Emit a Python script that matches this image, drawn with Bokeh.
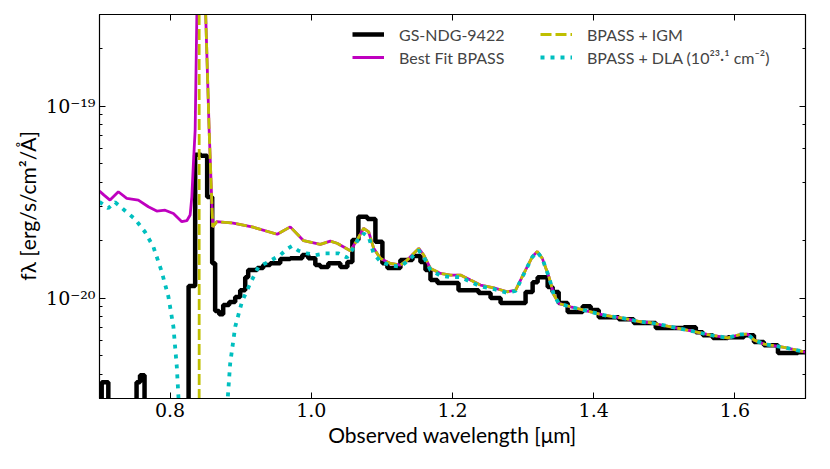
from bokeh.plotting import figure
from bokeh.models import (Range1d, LinearAxis, LogAxis, FixedTicker, LogTicker,
                          CustomJSTickFormatter, Legend, LegendItem)
from bokeh.embed import file_html
from bokeh.resources import INLINE

UNIT = 1e-20  # flux values below are in units of 1e-20 erg/s/cm2/A

# ---- observed spectrum (bin left edges in micron, flux per bin) ----
obs_edges = [0.6950, 0.7031, 0.7125, 0.7525, 0.7574, 0.7638, 0.8262, 0.8355, 0.8440,
             0.8525, 0.8596, 0.8638, 0.8695, 0.8752, 0.8837, 0.8922, 0.8993, 0.9064,
             0.9106, 0.9234, 0.9319, 0.9418, 0.9560, 0.9702, 0.9872, 0.9957, 1.0057,
             1.0128, 1.0241, 1.0411, 1.0511, 1.0582, 1.0667, 1.0794, 1.0908, 1.1007,
             1.1078, 1.1262, 1.1433, 1.1546, 1.1617, 1.1688, 1.1787, 1.2085, 1.2369,
             1.2539, 1.2681, 1.3035, 1.3135, 1.3206, 1.3348, 1.3418, 1.3504, 1.3631,
             1.3844, 1.3957, 1.4071, 1.4355, 1.4567, 1.4879, 1.5277, 1.5447, 1.5546,
             1.5688, 1.5901, 1.6128, 1.6270, 1.6411, 1.6610, 1.6894, 1.7100]
obs_flux = [0.01, 0.365, 0.01, 0.365, 0.397, 0.01, 1.155, 5.58, 5.52,
            3.36, 1.52, 0.856, 0.825, 0.92, 0.953, 1.012, 1.10, 1.286,
            1.40, 1.433, 1.486, 1.52, 1.597, 1.615, 1.675, 1.615, 1.486,
            1.45, 1.52, 1.45, 1.54, 2.005, 2.65, 2.58, 1.965, 1.52,
            1.433, 1.578, 1.655, 1.54, 1.40, 1.241, 1.197, 1.10, 1.062,
            1.0, 0.942, 1.075, 1.211, 1.286, 1.141, 1.075, 0.942, 0.846,
            0.908, 0.866, 0.796, 0.777, 0.741, 0.698, 0.706, 0.665, 0.641,
            0.619, 0.626, 0.641, 0.590, 0.569, 0.517, 0.523]

# ---- best-fit BPASS model ----
model_wave = [0.7000, 0.7064, 0.7149, 0.7267, 0.7386, 0.7550, 0.7692, 0.7811, 0.7929,
              0.8047, 0.8166, 0.8237, 0.8284, 0.8308, 0.8330, 0.8355, 0.8379, 0.8426,
              0.8504, 0.8553, 0.8604, 0.8662, 0.8894, 0.9177, 0.9518, 0.9702, 0.9891,
              1.0128, 1.0270, 1.0365, 1.0553, 1.0648, 1.0742, 1.0813, 1.0884, 1.0979,
              1.1121, 1.1262, 1.1357, 1.1522, 1.1593, 1.1688, 1.1830, 1.1972, 1.2113,
              1.2255, 1.2397, 1.2586, 1.2776, 1.2894, 1.3011, 1.3130, 1.3201, 1.3272,
              1.3366, 1.3437, 1.3508, 1.3674, 1.3911, 1.4146, 1.4430, 1.4667, 1.4809,
              1.5092, 1.5376, 1.5660, 1.5897, 1.6085, 1.6180, 1.6274, 1.6416, 1.6699,
              1.6983, 1.7000]
model_flux = [3.61, 3.44, 3.24, 3.58, 3.31, 3.24, 2.99, 2.84, 2.87,
              2.76, 2.50, 2.53, 2.71, 3.37, 5.03, 7.5, 30.0, 100.0,
              30.0, 7.5, 2.35, 2.50, 2.46, 2.34, 2.15, 2.35, 1.99,
              1.905, 1.98, 1.93, 1.764, 2.005, 2.31, 2.21, 1.815, 1.61,
              1.516, 1.486, 1.578, 1.815, 1.675, 1.428, 1.345, 1.318, 1.318,
              1.241, 1.169, 1.131, 1.079, 1.10, 1.345, 1.641, 1.75, 1.61,
              1.291, 1.037, 0.938, 0.901, 0.856, 0.815, 0.784, 0.753, 0.744,
              0.709, 0.675, 0.641, 0.621, 0.647, 0.649, 0.604, 0.576, 0.554,
              0.525, 0.523]

# ---- BPASS + IGM ----
igm_wave = [0.8411, 0.8412, 0.8426,
            0.8504, 0.8553, 0.8604, 0.8662, 0.8894, 0.9177, 0.9518, 0.9702, 0.9891,
            1.0128, 1.0270, 1.0365, 1.0553, 1.0648, 1.0742, 1.0813, 1.0884, 1.0979,
            1.1121, 1.1262, 1.1357, 1.1522, 1.1593, 1.1688, 1.1830, 1.1972, 1.2113,
            1.2255, 1.2397, 1.2586, 1.2776, 1.2894, 1.3011, 1.3130, 1.3201, 1.3272,
            1.3366, 1.3437, 1.3508, 1.3674, 1.3911, 1.4146, 1.4430, 1.4667, 1.4809,
            1.5092, 1.5376, 1.5660, 1.5897, 1.6085, 1.6180, 1.6274, 1.6416, 1.6699,
            1.6983, 1.7000]
igm_flux = [0.000001, 75.0, 100.0,
            30.0, 7.5, 2.35, 2.50, 2.46, 2.34, 2.15, 2.35, 1.99,
            1.905, 1.98, 1.93, 1.764, 2.005, 2.31, 2.21, 1.815, 1.61,
            1.516, 1.486, 1.578, 1.815, 1.675, 1.428, 1.345, 1.318, 1.318,
            1.241, 1.169, 1.131, 1.079, 1.10, 1.345, 1.641, 1.75, 1.61,
            1.291, 1.037, 0.938, 0.901, 0.856, 0.815, 0.784, 0.753, 0.744,
            0.709, 0.675, 0.641, 0.621, 0.647, 0.649, 0.604, 0.576, 0.554,
            0.525, 0.523]

# ---- BPASS + DLA (N_HI = 10^23.1 cm^-2) ----
dla_wave = [0.7000, 0.7007, 0.7125, 0.7220, 0.7386, 0.7504, 0.7645, 0.7763, 0.7882,
            0.7976, 0.8047, 0.8095, 0.8118, 0.8160, 0.8426, 0.8780, 0.8818, 0.8851,
            0.8922, 0.9017, 0.9135, 0.9252, 0.9394, 0.9560, 0.9655, 0.9726, 0.9820,
            0.9939, 1.0057, 1.0199, 1.0387, 1.0506, 1.0577, 1.0671, 1.0742, 1.0813,
            1.0884, 1.0979, 1.1121, 1.1262, 1.1357, 1.1522, 1.1593, 1.1688, 1.1830,
            1.1972, 1.2113, 1.2255, 1.2397, 1.2586, 1.2776, 1.2894, 1.3011, 1.3130,
            1.3201, 1.3272, 1.3366, 1.3437, 1.3508, 1.3674, 1.3911, 1.4146, 1.4430,
            1.4667, 1.4809, 1.5092, 1.5376, 1.5660, 1.5897, 1.6085, 1.6180, 1.6274,
            1.6416, 1.6699, 1.6983, 1.7000]
dla_flux = [3.18, 3.16, 2.94, 3.16, 2.80, 2.58, 2.21, 1.85, 1.37,
            1.016, 0.709, 0.439, 0.306, 0.05, 0.000001, 0.05, 0.306, 0.457,
            0.709, 0.956, 1.193, 1.455, 1.545, 1.675, 1.80, 1.866, 1.764,
            1.71, 1.675, 1.71, 1.71, 1.628, 1.778, 2.045, 2.17, 2.087,
            1.70, 1.55, 1.48, 1.46, 1.55, 1.77, 1.64, 1.40, 1.31,
            1.285, 1.285, 1.215, 1.15, 1.115, 1.065, 1.09, 1.335, 1.635,
            1.74, 1.605, 1.288, 1.035, 0.936, 0.901, 0.856, 0.815, 0.784,
            0.753, 0.744, 0.709, 0.675, 0.641, 0.621, 0.647, 0.649, 0.604,
            0.576, 0.554, 0.525, 0.523]

x_ticks = [0.8, 1.0, 1.2, 1.4, 1.6]
labels = ["GS-NDG-9422", "Best Fit BPASS", "BPASS + IGM", "BPASS + DLA (10²³·¹ cm⁻²)"]

BLACK = "#000000"
MAGENTA = "#bf00bf"
YELLOW = "#bfbf00"
CYAN = "#00bfbf"

SANS = "Lato"
SERIF = "DejaVu Serif"

p = figure(width=822, height=461, y_axis_type="log",
           x_range=Range1d(0.7, 1.7), y_range=Range1d(3e-21, 3e-19),
           output_backend="svg", toolbar_location=None,
           min_border_left=99, min_border_right=17, min_border_top=14, min_border_bottom=63)
p.xgrid.visible = False
p.ygrid.visible = False
p.outline_line_color = "black"
p.outline_line_width = 1.2
p.background_fill_color = "white"
p.border_fill_color = "white"

obs_y = [v * UNIT for v in obs_flux] + [obs_flux[-1] * UNIT]
r_obs = p.step(obs_edges, obs_y, mode="after", line_color=BLACK, line_width=4.5)
r_mod = p.line(model_wave, [v * UNIT for v in model_flux], line_color=MAGENTA, line_width=2.8)
r_igm = p.line(igm_wave, [v * UNIT for v in igm_flux], line_color=YELLOW, line_width=2.8,
               line_dash="11 4")
r_dla = p.line(dla_wave, [v * UNIT for v in dla_flux], line_color=CYAN, line_width=3.8,
               line_dash="4 6")

xticker = FixedTicker(ticks=x_ticks)
xfmt = CustomJSTickFormatter(code="return tick.toFixed(1);")
yfmt = CustomJSTickFormatter(code="""
const e = Math.round(Math.log10(tick));
const sup = {'-':'\u207b','0':'\u2070','1':'\u00b9','2':'\u00b2','3':'\u00b3','4':'\u2074',
             '5':'\u2075','6':'\u2076','7':'\u2077','8':'\u2078','9':'\u2079'};
return '10' + String(e).split('').map(c => sup[c]).join('');
""")
blank = CustomJSTickFormatter(code="return '';")

xa = p.xaxis[0]
xa.ticker = xticker
xa.formatter = xfmt
ya = p.yaxis[0]
ya.formatter = yfmt

for ax in (xa, ya):
    ax.major_tick_in = 6
    ax.major_tick_out = 0
    ax.minor_tick_in = 3
    ax.minor_tick_out = 0
    ax.axis_line_color = "black"
    ax.major_tick_line_color = "black"
    ax.minor_tick_line_color = "black"
    ax.major_label_text_font = SERIF
    ax.major_label_text_font_size = "19px"
    ax.major_label_text_color = "black"
    ax.axis_label_text_font = SANS
    ax.axis_label_text_font_size = "21px"
    ax.axis_label_text_font_style = "normal"
    ax.axis_label_text_color = "black"
xa.minor_tick_line_color = None
xa.major_label_standoff = 4
xa.axis_label_standoff = 2
ya.major_label_standoff = 4
ya.axis_label_standoff = 3
xa.axis_label = "Observed wavelength [μm]"
ya.axis_label = "fλ [erg/s/cm²/Å]"

top = LinearAxis(ticker=xticker, formatter=blank, major_tick_in=6, major_tick_out=0,
                 major_label_standoff=0, minor_tick_line_color=None, axis_line_color="black")
right = LogAxis(ticker=LogTicker(), formatter=blank, major_tick_in=6, major_tick_out=0,
                minor_tick_in=3, minor_tick_out=0, major_label_standoff=0,
                axis_line_color="black")
p.add_layout(top, "above")
p.add_layout(right, "right")

def make_legend(items, loc):
    lg = Legend(items=items, location=loc, padding=0, margin=0, spacing=3,
                glyph_width=32, glyph_height=20, label_height=20, label_standoff=15,
                label_text_font=SANS, label_text_font_size="16px",
                border_line_color=None, background_fill_alpha=0)
    p.add_layout(lg, "center")
    return lg

make_legend([LegendItem(label=labels[0], renderers=[r_obs]),
             LegendItem(label=labels[1], renderers=[r_mod])], (253, 331))
make_legend([LegendItem(label=labels[2], renderers=[r_igm]),
             LegendItem(label=labels[3], renderers=[r_dla])], (441, 331))

open("out.html", "w").write(file_html(p, INLINE))
